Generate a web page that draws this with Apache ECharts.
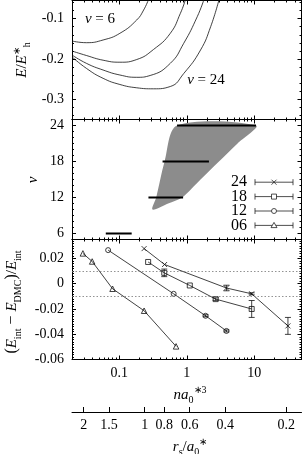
<!DOCTYPE html>
<html><head><meta charset="utf-8">
<script src="https://cdn.jsdelivr.net/npm/echarts@6/dist/echarts.min.js"></script>
<style>html,body{margin:0;padding:0;background:#fff}#c{width:303px;height:454px}</style>
</head><body><div id="c"></div>
<script>
// ---------- data ----------
// top panel: E/E*h vs n a0*^3 for nu = 6, 12, 18, 24
const curveN6  = [0.02, 0.0326, 0.0577, 0.1024, 0.1818, 0.23, 0.271];
const curveE6  = [-0.1554, -0.1596, -0.1529, -0.1363, -0.1033, -0.0786, -0.053];
const curveN12 = [0.02, 0.0326, 0.0577, 0.1024, 0.1818, 0.3217, 0.571, 0.8054, 0.956];
const curveE12 = [-0.1802, -0.1913, -0.2030, -0.2080, -0.2013, -0.1765, -0.1363, -0.0867, -0.053];
const curveN18 = [0.02, 0.0326, 0.0577, 0.1024, 0.1818, 0.2872, 0.571, 0.9019, 1.43, 1.794];
const curveE18 = [-0.1901, -0.2107, -0.2273, -0.2397, -0.2454, -0.2409, -0.2107, -0.1611, -0.0952, -0.053];
const curveN24 = [0.02, 0.0326, 0.0577, 0.1024, 0.1818, 0.3217, 0.571, 0.9019, 1.601, 2.258, 3.003];
const curveE24 = [-0.1946, -0.2231, -0.2479, -0.2632, -0.2714, -0.2739, -0.2682, -0.2360, -0.1777, -0.1200, -0.053];

// middle panel: shaded region boundary and horizontal bars
const regionLeftN   = [0.311, 0.353, 0.47, 0.72];
const regionLeftNu  = [10, 12, 18, 24];
const regionRightN  = [10.6, 5.65, 3.0, 1.6, 0.854, 0.53];
const regionRightNu = [24, 21, 18, 15, 12, 11];
const barNu = [6, 12, 18, 24];
const barLo = [0.0633, 0.271, 0.4384, 0.719];
const barHi = [0.153, 0.883, 2.13, 10.6];

// bottom panel: (Eint - EDMC)/Eint
const n06 = [0.029, 0.0398, 0.0797, 0.2337, 0.695];
const d06 = [0.024, 0.0176, -0.004, -0.0214, -0.0496];
const e06 = [0, 0, 0, 0, 0];
const n12 = [0.0685, 0.64, 1.90, 3.87];
const d12 = [0.0266, -0.008, -0.0254, -0.0374];
const e12 = [0, 0, 0.0008, 0.0008];
const n18 = [0.268, 0.4645, 1.109, 2.68, 9.15];
const d18 = [0.0172, 0.0086, -0.0014, -0.0122, -0.020];
const e18 = [0, 0.003, 0, 0.001, 0.0067];
const n24 = [0.2337, 0.4695, 3.87, 9.15, 31.5];
const d24 = [0.0278, 0.0152, -0.0034, -0.008, -0.0334];
const e24 = [0, 0, 0.0022, 0.0008, 0.0067];

// ticks
const xMajor = [0.1, 1, 10];
const rsTicks = [2, 1.5, 1, 0.8, 0.6, 0.4, 0.2];
const legendNames = ['24', '18', '12', '06'];

// ---------- chart ----------
const X_MIN = 0.02, X_MAX = 50;
const rsOf = n => Math.cbrt(3 / (4 * Math.PI * n));
const FONT = 'Liberation Serif';
const zip = (a, b) => a.map((v, i) => [v, b[i]]);

const xMinor = [];
for (let d = -2; d <= 1; d++) for (let k = 2; k <= 9; k++) {
  const v = +(k * Math.pow(10, d)).toPrecision(3);
  if (v > X_MIN && v < X_MAX) xMinor.push(v);
}

const yCfg = [
  {min: -0.35, max: -0.055, major: [-0.3, -0.2, -0.1], minor: [], fmt: v => v.toFixed(1)},
  {min: 5, max: 25, major: [6, 12, 18, 24], minor: [], fmt: v => String(v)},
  {min: -0.06, max: 0.035, major: [-0.06, -0.04, -0.02, 0, 0.02], minor: [], fmt: v => v === 0 ? '0' : v.toFixed(2)}
];
for (let k = -17; k <= -3; k++) if (k % 5 !== 0) yCfg[0].minor.push(+(k * 0.02).toFixed(3));
for (let k = 7; k <= 24; k++) if (k % 6 !== 0) yCfg[1].minor.push(k);
for (let k = -29; k <= 17; k++) if (k % 10 !== 0) yCfg[2].minor.push(+(k * 0.002).toFixed(4));

const black = '#000';
function xAx(gi, pos, ticks, len, showLabel, showLine) {
  return {
    type: 'log', gridIndex: gi, position: pos, min: X_MIN, max: X_MAX,
    axisLine: {show: showLine, onZero: false, lineStyle: {color: black, width: 1}},
    axisTick: {show: true, inside: true, length: len, customValues: ticks, lineStyle: {color: black, width: 1}},
    axisLabel: {show: showLabel, customValues: xMajor, margin: 7, color: black, fontFamily: FONT, fontSize: 14,
      formatter: v => String(+(+v).toPrecision(3))},
    splitLine: {show: false}, minorTick: {show: false}
  };
}
function yAx(gi, pos, ticks, len, showLabel, showLine) {
  const c = yCfg[gi];
  return {
    type: 'value', gridIndex: gi, position: pos, min: c.min, max: c.max,
    axisLine: {show: showLine, onZero: false, lineStyle: {color: black, width: 1}},
    axisTick: {show: true, inside: true, length: len, customValues: ticks, lineStyle: {color: black, width: 1}},
    axisLabel: {show: showLabel, customValues: c.major, margin: 8, color: black, fontFamily: FONT, fontSize: 14,
      formatter: v => c.fmt(+v)},
    splitLine: {show: false}
  };
}
const xAxis = [], yAxis = [];
for (let gi = 0; gi < 3; gi++) {
  xAxis.push(xAx(gi, 'bottom', xMajor, 4, gi === 2, true));
  xAxis.push(xAx(gi, 'bottom', xMinor, 2, false, false));
  xAxis.push(xAx(gi, 'top', xMajor, 4, false, true));
  xAxis.push(xAx(gi, 'top', xMinor, 2, false, false));
  yAxis.push(yAx(gi, 'left', yCfg[gi].major, 4, true, true));
  yAxis.push(yAx(gi, 'left', yCfg[gi].minor, 2, false, false));
  yAxis.push(yAx(gi, 'right', yCfg[gi].major, 4, false, true));
  yAxis.push(yAx(gi, 'right', yCfg[gi].minor, 2, false, false));
}
// secondary r_s axis below bottom panel
xAxis.push({
  type: 'log', gridIndex: 2, position: 'bottom', offset: 52.5, inverse: true,
  min: rsOf(X_MAX), max: rsOf(X_MIN),
  axisLine: {show: true, onZero: false, lineStyle: {color: black, width: 1}},
  axisTick: {show: true, inside: true, length: 5, customValues: rsTicks, lineStyle: {color: black, width: 1}},
  axisLabel: {show: true, customValues: rsTicks, margin: 6, color: black, fontFamily: FONT, fontSize: 14,
    formatter: v => String(+(+v).toPrecision(2))},
  splitLine: {show: false}
});

const series = [];
// top curves
[[curveN6, curveE6], [curveN12, curveE12], [curveN18, curveE18], [curveN24, curveE24]].forEach(([n, e]) => {
  series.push({type: 'line', xAxisIndex: 0, yAxisIndex: 0, data: zip(n, e), smooth: 0.5,
    showSymbol: false, symbol: 'none', lineStyle: {color: '#111', width: 0.8}, silent: true});
});
// region
const regionPts = zip(regionLeftN, regionLeftNu).concat(zip(regionRightN, regionRightNu));
series.push({
  type: 'custom', xAxisIndex: 4, yAxisIndex: 4, clip: true, data: [regionPts[0]],
  renderItem: (p, api) => ({type: 'polygon', shape: {points: regionPts.map(q => api.coord(q)), smooth: 0.3},
    style: {fill: '#8c8c8c', stroke: 'none'}})
});
// bars
series.push({
  type: 'custom', xAxisIndex: 4, yAxisIndex: 4, clip: true,
  data: barNu.map((nu, i) => [barLo[i], barHi[i], nu]), encode: {x: [0, 1], y: 2},
  renderItem: (p, api) => {
    const a = api.coord([api.value(0), api.value(2)]), b = api.coord([api.value(1), api.value(2)]);
    return {type: 'line', shape: {x1: a[0], y1: a[1], x2: b[0], y2: b[1]}, style: {stroke: '#000', lineWidth: 2}};
  }
});
// bottom
const crossPath = 'path://M0,0L10,10M10,0L0,10';
const sets = [
  {n: n24, d: d24, e: e24, sym: crossPath, size: 5},
  {n: n18, d: d18, e: e18, sym: 'rect', size: 5},
  {n: n12, d: d12, e: e12, sym: 'circle', size: 5},
  {n: n06, d: d06, e: e06, sym: 'triangle', size: 5.5}
];
sets.forEach((s, si) => {
  const ser = {type: 'line', xAxisIndex: 8, yAxisIndex: 8, data: zip(s.n, s.d), symbol: s.sym, symbolSize: s.size,
    showAllSymbol: true, lineStyle: {color: '#111', width: 0.8},
    itemStyle: {color: 'rgba(0,0,0,0)', borderColor: '#111', borderWidth: 0.8}, z: 3, silent: true};
  if (si === 0) {
    ser.markLine = {silent: true, symbol: 'none', label: {show: false},
      lineStyle: {type: [1.5, 2], color: '#777', width: 0.8},
      data: [{yAxis: 0.01}, {yAxis: -0.01}]};
  }
  series.push(ser);
  const ed = s.n.map((v, i) => [v, s.d[i], s.e[i]]).filter(q => q[2] > 0);
  series.push({
    type: 'custom', xAxisIndex: 8, yAxisIndex: 8, data: ed, encode: {x: 0, y: 1}, z: 3,
    renderItem: (p, api) => {
      const x = api.value(0), y = api.value(1), e = api.value(2);
      const a = api.coord([x, y - e]), b = api.coord([x, y + e]);
      const st = {stroke: '#111', lineWidth: 0.8};
      return {type: 'group', children: [
        {type: 'line', shape: {x1: a[0], y1: a[1], x2: b[0], y2: b[1]}, style: st},
        {type: 'line', shape: {x1: a[0] - 3, y1: a[1], x2: a[0] + 3, y2: a[1]}, style: st},
        {type: 'line', shape: {x1: b[0] - 3, y1: b[1], x2: b[0] + 3, y2: b[1]}, style: st}
      ]};
    }
  });
});

// ---------- text / legend graphics ----------
const rich = {
  i: {fontFamily: FONT, fontStyle: 'italic', fontSize: 15, color: '#000'},
  n: {fontFamily: FONT, fontSize: 15, color: '#000'},
  sub: {fontFamily: FONT, fontSize: 10, color: '#000', verticalAlign: 'bottom', padding: [0, 0, -3, 0]},
  sup: {fontFamily: FONT, fontSize: 10, color: '#000', verticalAlign: 'top', padding: [-2, 0, 0, 0]}
};
function txt(x, y, text, rot, size) {
  return {type: 'text', x, y, rotation: rot || 0, z: 100, silent: true,
    style: {text, rich, fontFamily: FONT, fontSize: size || 15, fill: '#000', align: 'center', verticalAlign: 'middle'}};
}
const graphic = [
  txt(22, 60, '{i|E}{n|/}{i|E}{sup|∗}{sub|h}', Math.PI / 2),
  txt(33, 180, '{i|ν}', Math.PI / 2),
  txt(12, 302, '({i|E}{sub|int} − {i|E}{sub|DMC}){n|/}{i|E}{sub|int}', Math.PI / 2, 16),
  txt(100, 19, '{i|ν} = 6'),
  txt(206, 80, '{i|ν} = 24'),
  txt(190, 395, '{i|na}{sub|0}{sup|∗3}'),
  txt(190, 447, '{i|r}{sub|s}{n|/}{i|a}{sub|0}{sup|∗}')
];
const lgSym = ['cross', 'rect', 'circle', 'triangle'];
legendNames.forEach((name, i) => {
  const y = 182.2 + 14.4 * i, x1 = 255, x2 = 293, xm = 274;
  const st = {stroke: '#222', lineWidth: 0.8, fill: 'none'};
  graphic.push({type: 'text', x: 247, y, z: 100, style: {text: name, fontFamily: FONT, fontSize: 16, fill: '#000', align: 'right', verticalAlign: 'middle'}});
  graphic.push({type: 'line', z: 100, shape: {x1, y1: y, x2, y2: y}, style: st});
  graphic.push({type: 'line', z: 100, shape: {x1, y1: y - 3, x2: x1, y2: y + 3}, style: st});
  graphic.push({type: 'line', z: 100, shape: {x1: x2, y1: y - 3, x2, y2: y + 3}, style: st});
  const s = lgSym[i];
  if (s === 'cross') {
    graphic.push({type: 'line', z: 101, shape: {x1: xm - 2.5, y1: y - 2.5, x2: xm + 2.5, y2: y + 2.5}, style: st});
    graphic.push({type: 'line', z: 101, shape: {x1: xm - 2.5, y1: y + 2.5, x2: xm + 2.5, y2: y - 2.5}, style: st});
  } else if (s === 'rect') {
    graphic.push({type: 'rect', z: 101, shape: {x: xm - 2.5, y: y - 2.5, width: 5, height: 5}, style: {stroke: '#222', lineWidth: 0.8, fill: '#fff'}});
  } else if (s === 'circle') {
    graphic.push({type: 'circle', z: 101, shape: {cx: xm, cy: y, r: 2.5}, style: {stroke: '#222', lineWidth: 0.8, fill: '#fff'}});
  } else {
    graphic.push({type: 'polygon', z: 101, shape: {points: [[xm, y - 3], [xm + 3, y + 2.2], [xm - 3, y + 2.2]]}, style: {stroke: '#222', lineWidth: 0.8, fill: '#fff'}});
  }
});

const chart = echarts.init(document.getElementById('c'), null, {renderer: 'canvas'});
chart.setOption({
  animation: false,
  backgroundColor: '#fff',
  grid: [
    {left: 72, right: 1.5, top: 0.5, height: 119},
    {left: 72, right: 1.5, top: 119.5, height: 120},
    {left: 72, right: 1.5, top: 239.5, height: 120}
  ],
  xAxis, yAxis, series, graphic
});
</script></body></html>
